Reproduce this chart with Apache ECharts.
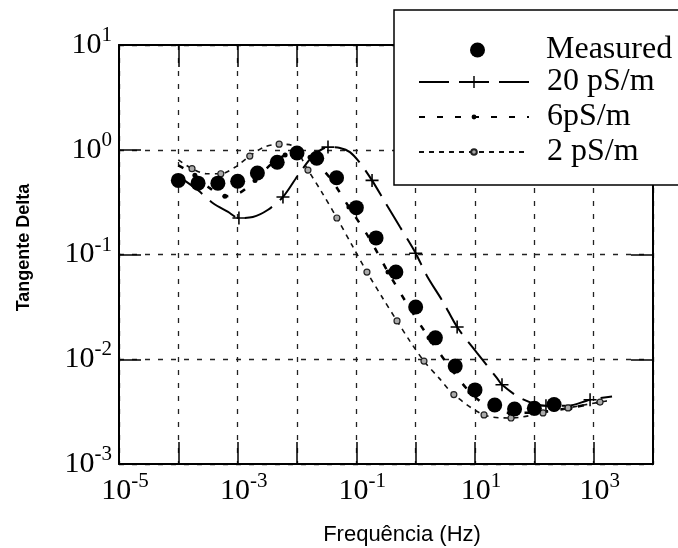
<!DOCTYPE html>
<html>
<head>
<meta charset="utf-8">
<script src="https://cdn.jsdelivr.net/npm/echarts@6/dist/echarts.min.js"></script>
<style>
  html, body { margin: 0; padding: 0; background: #fff; }
  #chart { width: 678px; height: 548px; }
</style>
</head>
<body>
<div id="chart"></div>
<script>
// measured points (Hz, tan delta)
const measFreq = [1e-4, 2.15e-4, 4.64e-4, 1e-3, 2.15e-3, 4.64e-3, 1e-2, 2.15e-2, 4.64e-2, 0.1,
  0.215, 0.464, 1, 2.15, 4.64, 10, 21.5, 46.4, 100, 215];
const measTan = [0.51, 0.48, 0.48, 0.50, 0.60, 0.76, 0.93, 0.83, 0.54, 0.28,
  0.144, 0.068, 0.0315, 0.016, 0.0086, 0.0051, 0.00366, 0.00335, 0.0034, 0.0037];

// model 20 pS/m
const freq20 = [1.0e-4, 2.15e-4, 3.8e-4, 6.9e-4, 1.05e-3, 1.8e-3, 3.2e-3, 5.8e-3, 1.04e-2, 1.86e-2,
  3.33e-2, 5.3e-2, 7.8e-2, 0.115, 0.184, 0.304, 0.545, 1.0, 1.55, 2.9,
  5.0, 10.8, 23.5, 28.5, 62, 157, 370, 870, 2040];
const tan20 = [0.56, 0.41, 0.31, 0.255, 0.223, 0.228, 0.266, 0.354, 0.57, 0.87,
  1.06, 1.04, 0.95, 0.75, 0.51, 0.317, 0.183, 0.103, 0.0624, 0.0352,
  0.0203, 0.0115, 0.0066, 0.0057, 0.00418, 0.0036, 0.0036, 0.0041, 0.0044];
const mark20 = [4, 7, 10, 14, 17, 20, 23, 25, 27];

// model 6 pS/m
const freq6 = [1e-4, 1.9e-4, 3.4e-4, 6.1e-4, 1.1e-3, 1.96e-3, 3.5e-3, 6.3e-3, 1e-2, 1.66e-2,
  3.6e-2, 7.5e-2, 0.164, 0.342, 0.773, 1.68, 3.65, 8.2, 17.9, 38.9,
  125, 400, 1280, 2040];
const tan6 = [0.71, 0.57, 0.43, 0.36, 0.39, 0.51, 0.71, 0.89, 0.97, 0.85,
  0.537, 0.284, 0.144, 0.068, 0.0315, 0.016, 0.0086, 0.00486, 0.00343, 0.00307,
  0.00313, 0.00343, 0.0039, 0.00408];
const mark6 = [1, 3, 5, 7, 9, 11, 13, 15, 17, 19, 21];

// model 2 pS/m
const freq2 = [1e-4, 1.7e-4, 3.0e-4, 5.2e-4, 9.0e-4, 1.6e-3, 2.78e-3, 5.0e-3, 8.2e-3, 1.53e-2,
  2.64e-2, 4.7e-2, 8.45e-2, 0.151, 0.271, 0.485, 0.80, 1.38, 2.48, 4.4,
  14.2, 40.5, 140, 370, 1280, 2040];
const tan2 = [0.80, 0.66, 0.59, 0.59, 0.68, 0.87, 1.06, 1.13, 1.10, 0.64,
  0.39, 0.223, 0.123, 0.068, 0.0393, 0.0232, 0.0149, 0.0096, 0.0066, 0.0046,
  0.00294, 0.00275, 0.00307, 0.00343, 0.0039, 0.00408];
const mark2 = [1, 3, 5, 7, 9, 11, 13, 15, 17, 19, 20, 21, 22, 23, 24];

const serif = 'Liberation Serif';
const sans = 'Liberation Sans';
const plusPath = 'path://M0,4.4 H10 V5.6 H0 Z M4.4,0 H5.6 V10 H4.4 Z';

function pts(fr, tv, marks) {
  return fr.map((f, i) => marks.indexOf(i) < 0 ? {value: [f, tv[i]], symbol: 'none'} : [f, tv[i]]);
}
function expOf(v) { return Math.round(Math.log10(v)); }

const rich = {
  b: {fontFamily: serif, fontSize: 30, lineHeight: 40, color: '#000'},
  s: {fontFamily: serif, fontSize: 21, verticalAlign: 'top', color: '#000'}
};
const grid = {color: '#222', width: 1.3, type: [5, 8]};
const tick = {show: true, inside: true, length: 22, lineStyle: {color: '#000', width: 1.5}};
const frame = {show: true, lineStyle: {color: '#000', width: 2}};

const legendText = {fontFamily: serif, fontSize: 32, lineHeight: 34, color: '#000', padding: [0, 0, 0, 13]};
const legendBase = {
  left: 418, orient: 'vertical', padding: 0, itemWidth: 110, selectedMode: false, z: 20,
  textStyle: legendText
};

const chart = echarts.init(document.getElementById('chart'));
chart.setOption({
  animation: false,
  backgroundColor: '#fff',
  grid: {left: 119, right: 25, top: 45, bottom: 84, outerBoundsMode: 'none'},
  xAxis: [{
    type: 'log', min: 1e-5, max: 1e4, splitNumber: 9, position: 'bottom',
    name: 'Frequência (Hz)', nameLocation: 'middle', nameGap: 60,
    nameTextStyle: {fontFamily: sans, fontSize: 22, color: '#000', padding: [0, 0, 0, 32]},
    axisLine: frame, axisTick: tick,
    splitLine: {show: true, lineStyle: grid},
    axisLabel: {
      interval: 0, margin: 7, padding: [0, 0, 0, 12], rich: rich,
      formatter: v => { const e = expOf(v); return (e % 2 === 0) ? '' : '{b|10}{s|' + e + '}'; }
    }
  }, {
    type: 'log', min: 1e-5, max: 1e4, splitNumber: 9, position: 'top',
    axisLine: frame, axisTick: tick, axisLabel: {show: false}, splitLine: {show: false}
  }],
  yAxis: [{
    type: 'log', min: 1e-3, max: 10, splitNumber: 4, position: 'left',
    name: 'Tangente Delta', nameLocation: 'middle', nameGap: 86,
    nameTextStyle: {fontFamily: sans, fontSize: 18, fontWeight: 'bold', color: '#000', padding: [0, 0, 0, 14]},
    axisLine: frame, axisTick: tick,
    splitLine: {show: true, lineStyle: grid},
    axisLabel: {margin: 7, rich: rich, formatter: v => '{b|10}{s|' + expOf(v) + '}'}
  }, {
    type: 'log', min: 1e-3, max: 10, splitNumber: 4, position: 'right',
    axisLine: frame, axisTick: tick, axisLabel: {show: false}, splitLine: {show: false}
  }],
  graphic: [{
    type: 'rect', z: 10,
    shape: {x: 394, y: 10, width: 300, height: 175},
    style: {fill: '#fff', stroke: '#000', lineWidth: 1.5}
  }],
  legend: [
    Object.assign({}, legendBase, {
      data: [{name: 'Measured', icon: 'circle'}], left: 470, top: 33, itemWidth: 15, itemHeight: 15,
      textStyle: Object.assign({}, legendText, {padding: [0, 0, 0, 56]})
    }),
    Object.assign({}, legendBase, {data: ['20 pS/m'], top: 65, itemHeight: 15}),
    Object.assign({}, legendBase, {data: ['6pS/m'], top: 100, itemHeight: 6}),
    Object.assign({}, legendBase, {data: ['2 pS/m'], top: 135, itemHeight: 7})
  ],
  series: [{
    name: '20 pS/m', type: 'line', smooth: 0.3, z: 3,
    data: pts(freq20, tan20, mark20),
    symbol: plusPath, symbolSize: 13,
    itemStyle: {color: '#000'},
    lineStyle: {color: '#000', width: 2, type: [30, 10]}
  }, {
    name: '6pS/m', type: 'line', smooth: 0.3, z: 3,
    data: pts(freq6, tan6, mark6),
    symbol: 'circle', symbolSize: 5,
    itemStyle: {color: '#000'},
    lineStyle: {color: '#000', width: 2.5, type: [6, 12]}
  }, {
    name: '2 pS/m', type: 'line', smooth: 0.3, z: 3,
    data: pts(freq2, tan2, mark2),
    symbol: 'circle', symbolSize: 6,
    itemStyle: {color: '#aaa', borderColor: '#222', borderWidth: 1.2},
    lineStyle: {color: '#111', width: 1.6, type: [5, 5]}
  }, {
    name: 'Measured', type: 'scatter', z: 5,
    data: measFreq.map((f, i) => [f, measTan[i]]),
    symbol: 'circle', symbolSize: 15,
    itemStyle: {color: '#000', opacity: 1}
  }]
});
</script>
</body>
</html>
